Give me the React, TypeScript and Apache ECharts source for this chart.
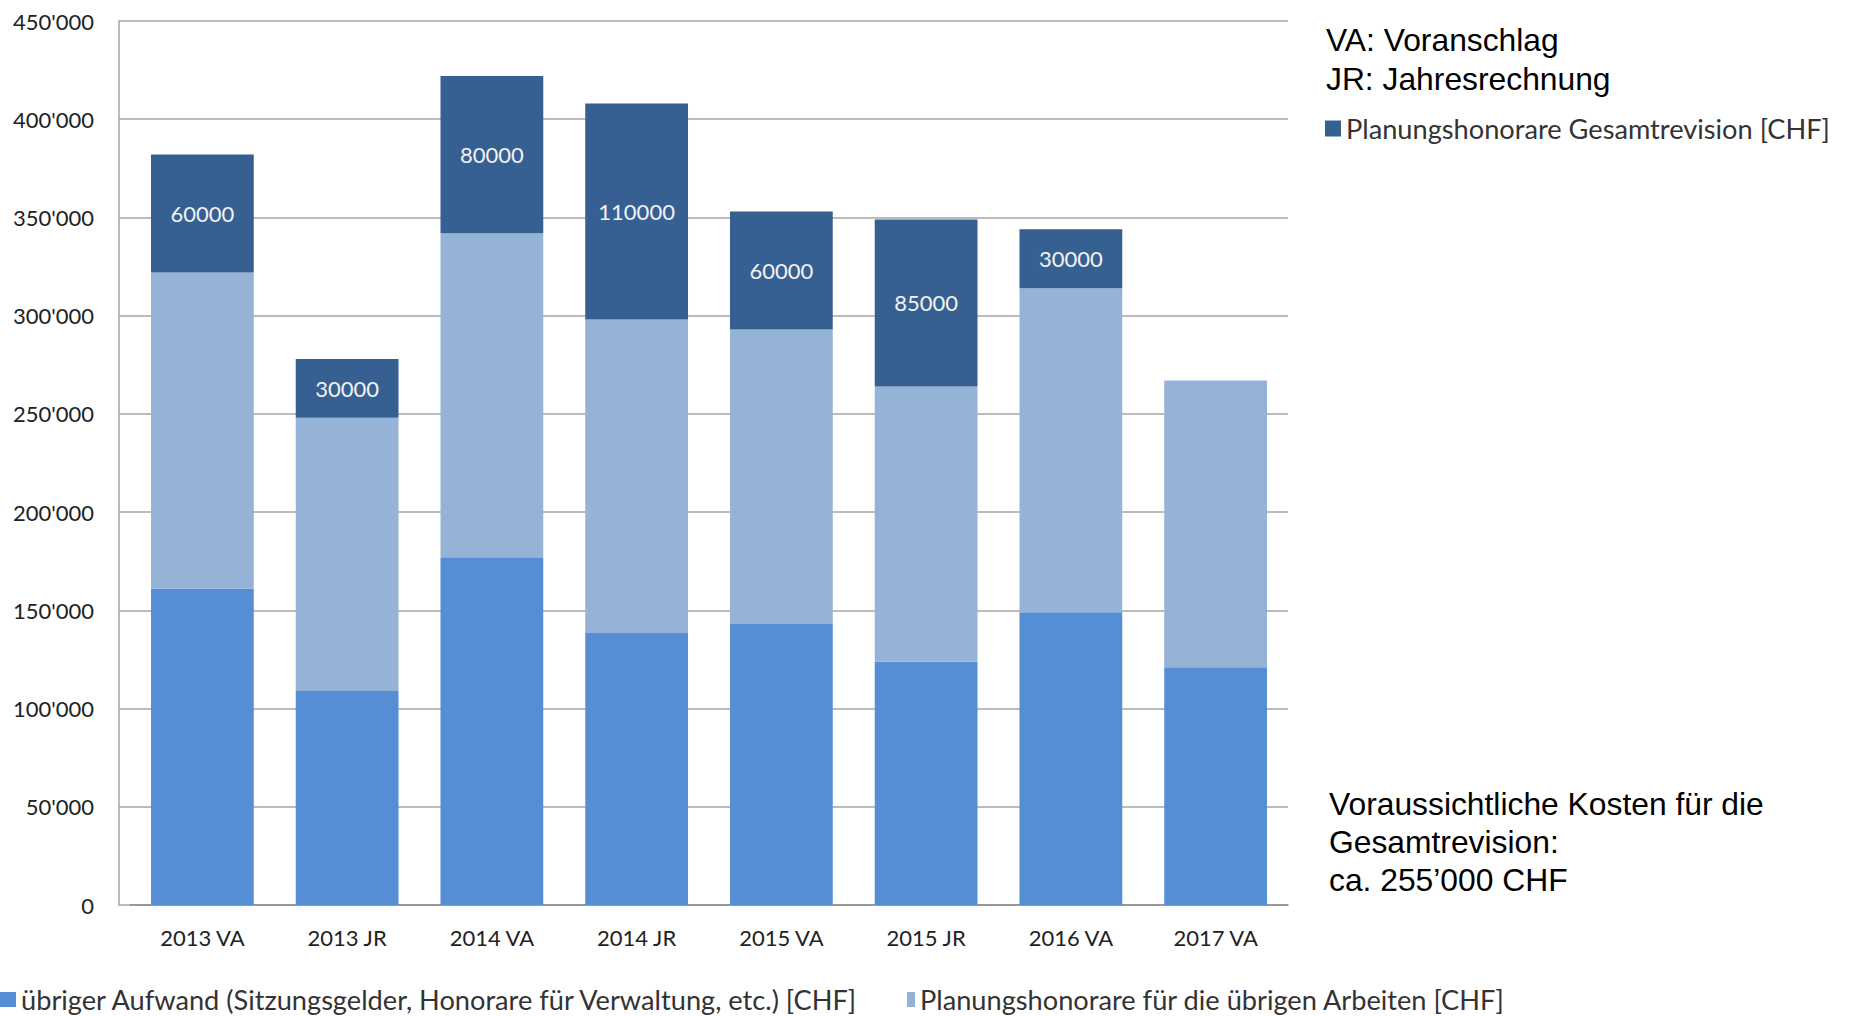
import React, { useEffect, useRef } from "react";
import * as echarts from "echarts";

const categories = ["2013 VA", "2013 JR", "2014 VA", "2014 JR", "2015 VA", "2015 JR", "2016 VA", "2017 VA"];
const seriesNames = [
  "übriger Aufwand (Sitzungsgelder, Honorare für Verwaltung, etc.) [CHF]",
  "Planungshonorare für die übrigen Arbeiten [CHF]",
  "Planungshonorare Gesamtrevision [CHF]",
];
const uebrigerAufwand = [161000, 109000, 177000, 138500, 143000, 124000, 149000, 121000];
const planungUebrige = [161000, 139000, 165000, 159500, 150000, 140000, 165000, 146000];
const planungGesamt = [60000, 30000, 80000, 110000, 60000, 85000, 30000, null];
const yMin = 0;
const yMax = 450000;
const yStep = 50000;
const noteTop = "VA: Voranschlag\nJR: Jahresrechnung";
const noteBottom = "Voraussichtliche Kosten für die\nGesamtrevision:\nca. 255’000 CHF";

const colors = ["#558ED5", "#95B3D7", "#376092"];
const calibriLike = "Lato";

function fmt(v: number): string {
  return String(v).replace(/\B(?=(\d{3})+(?!\d))/g, "'");
}

export default function App() {
  const ref = useRef<HTMLDivElement>(null);
  useEffect(() => {
    if (!ref.current) return;
    const chart = echarts.init(ref.current, null, { renderer: "svg" });
    const legendText = { fontFamily: calibriLike, fontSize: 27.2, lineHeight: 27, color: "#333333" };
    chart.setOption({
      animation: false,
      backgroundColor: "#ffffff",
      grid: { left: 130, right: 561, top: 21, bottom: 111, containLabel: false },
      xAxis: {
        type: "category",
        data: categories,
        axisLine: { show: true, lineStyle: { color: "#8C8C8C", width: 1.5 } },
        axisTick: { show: false },
        axisLabel: { fontFamily: calibriLike, fontSize: 22, color: "#222222", margin: 21 },
        splitLine: { show: false },
      },
      yAxis: {
        type: "value",
        min: yMin,
        max: yMax,
        interval: yStep,
        offset: 11,
        axisLine: { show: true, lineStyle: { color: "#A6A6A6", width: 1.5 } },
        axisTick: { show: true, inside: true, length: 11, lineStyle: { color: "#A6A6A6", width: 1.5 } },
        axisLabel: {
          fontFamily: calibriLike,
          fontSize: 22,
          color: "#222222",
          margin: 25,
          formatter: (v: number) => fmt(v),
        },
        splitLine: { show: true, lineStyle: { color: "#A6A6A6", width: 1.5 } },
      },
      legend: [
        {
          data: [seriesNames[2]],
          left: 1325,
          top: 115,
          padding: 0,
          icon: "rect",
          itemWidth: 16,
          itemHeight: 16,
          selectedMode: false,
          textStyle: legendText,
        },
        {
          data: [seriesNames[0]],
          left: 0,
          top: 986,
          padding: 0,
          icon: "rect",
          itemWidth: 16,
          itemHeight: 15,
          selectedMode: false,
          textStyle: legendText,
        },
        {
          data: [seriesNames[1]],
          left: 907,
          top: 986,
          padding: 0,
          icon: "rect",
          itemWidth: 8,
          itemHeight: 15,
          selectedMode: false,
          textStyle: legendText,
        },
      ],
      series: [
        {
          name: seriesNames[0],
          type: "bar",
          stack: "total",
          data: uebrigerAufwand,
          barCategoryGap: "29%",
          itemStyle: { color: colors[0] },
        },
        {
          name: seriesNames[1],
          type: "bar",
          stack: "total",
          data: planungUebrige,
          barCategoryGap: "29%",
          itemStyle: { color: colors[1] },
        },
        {
          name: seriesNames[2],
          type: "bar",
          stack: "total",
          data: planungGesamt,
          barCategoryGap: "29%",
          itemStyle: { color: colors[2] },
          label: {
            show: true,
            position: "inside",
            fontFamily: calibriLike,
            fontSize: 22,
            color: "#F2F2F2",
            formatter: (p: any) => (p.value == null ? "" : String(p.value)),
          },
        },
      ],
      graphic: [
        {
          type: "text",
          x: 1326,
          y: 20,
          style: {
            text: noteTop,
            font: '31.8px "Liberation Sans", Arial, sans-serif',
            lineHeight: 39,
            fill: "#000000",
            verticalAlign: "top",
          },
        },
        {
          type: "text",
          x: 1329,
          y: 785,
          style: {
            text: noteBottom,
            font: '31.8px "Liberation Sans", Arial, sans-serif',
            lineHeight: 38,
            fill: "#000000",
            verticalAlign: "top",
          },
        },
      ],
    });
    return () => chart.dispose();
  }, []);
  return (
    <div
      ref={ref}
      style={{ position: "fixed", left: 0, top: 0, width: 1849, height: 1016, background: "#fff" }}
    />
  );
}
